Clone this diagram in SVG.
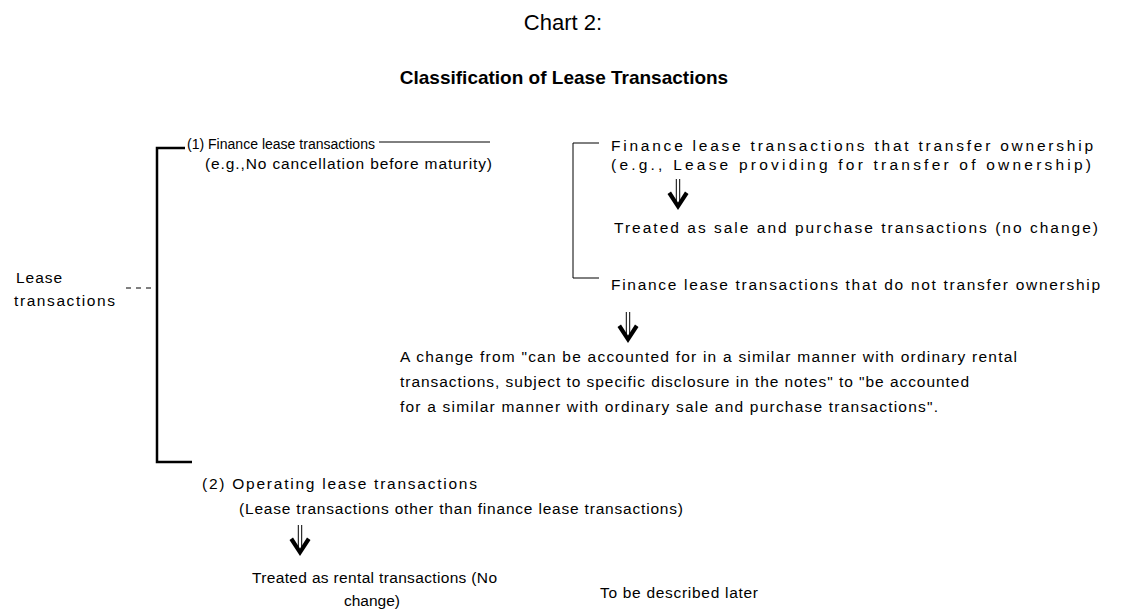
<svg xmlns="http://www.w3.org/2000/svg" xmlns:xlink="http://www.w3.org/1999/xlink" width="1128" height="610" viewBox="0 0 1128 610">
<style>
text{font-family:"Liberation Sans",Arial,sans-serif;font-size:15.5px;fill:#000}
.title{font-size:22px}
.bold{font-size:19px;font-weight:bold}
.ln{stroke:#000;fill:none}
.thick{stroke-width:2.5}
.thin{stroke-width:1}
</style>
<defs>
<g id="arr">
<line x1="-1.7" y1="-31" x2="-1.7" y2="-9" stroke="#000" stroke-width="1"/>
<line x1="1.7" y1="-31" x2="1.7" y2="-9" stroke="#000" stroke-width="1"/>
<polygon points="0,0 -10.5,-16 -7,-18.5 0,-7.5 7,-18.5 10.5,-16" fill="#000"/>
</g>
</defs>
<rect width="1128" height="610" fill="#fff"/>
<g id="title">
<text class="title" x="563" y="30" text-anchor="middle">Chart 2:</text>
<text class="bold" x="564" y="84" text-anchor="middle">Classification of Lease Transactions</text>
</g>
<g id="connectors">
<path class="ln thick" d="M185,148 H157 V462 H192"/>
<path class="ln thin" d="M126,288 h5 M136,288 h5 M146,288 h5"/>
<path class="ln thin" d="M379,142 H490"/>
<path class="ln thin" d="M599,143 H573 V278 H599"/>
<use xlink:href="#arr" x="678" y="210"/>
<use xlink:href="#arr" x="628" y="343"/>
<use xlink:href="#arr" x="300" y="556"/>
</g>
<g id="node-lease">
<text x="16" y="283" textLength="46" lengthAdjust="spacing">Lease</text>
<text x="14" y="306" textLength="101" lengthAdjust="spacing">transactions</text>
</g>
<g id="node-finance">
<text x="187" y="149" font-size="14.5" textLength="188" lengthAdjust="spacingAndGlyphs">(1) Finance lease transactions</text>
<text x="205" y="169" textLength="287" lengthAdjust="spacing">(e.g.,No cancellation before maturity)</text>
</g>
<g id="node-transfer">
<text x="611" y="151" textLength="482" lengthAdjust="spacing">Finance lease transactions that transfer ownership</text>
<text x="611" y="170" textLength="480" lengthAdjust="spacing">(e.g., Lease providing for transfer of ownership)</text>
</g>
<g id="node-sale">
<text x="614" y="233" textLength="484" lengthAdjust="spacing">Treated as sale and purchase transactions (no change)</text>
</g>
<g id="node-notransfer">
<text x="611" y="290" textLength="489" lengthAdjust="spacing">Finance lease transactions that do not transfer ownership</text>
</g>
<g id="node-change">
<text x="400" y="362" textLength="617" lengthAdjust="spacing">A change from  "can be accounted for in a similar manner with ordinary rental</text>
<text x="400" y="387" textLength="569" lengthAdjust="spacing">transactions, subject to specific disclosure in the notes" to "be accounted</text>
<text x="400" y="412" textLength="538" lengthAdjust="spacing">for a similar manner with ordinary sale and purchase transactions".</text>
</g>
<g id="node-operating">
<text x="202" y="489" textLength="275" lengthAdjust="spacing">(2) Operating lease transactions</text>
<text x="239" y="514" textLength="444" lengthAdjust="spacing">(Lease transactions other than finance lease transactions)</text>
</g>
<g id="node-rental">
<text x="252" y="583" textLength="245" lengthAdjust="spacing">Treated as rental transactions (No</text>
<text x="372" y="606" text-anchor="middle">change)</text>
</g>
<g id="node-later">
<text x="600" y="598" textLength="158" lengthAdjust="spacing">To be described later</text>
</g>
</svg>
